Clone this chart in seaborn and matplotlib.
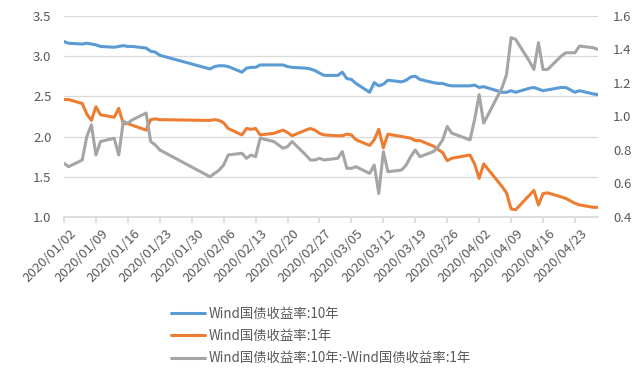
"""
国债收益率 10年 / 1年 及期限利差 (2020/01 - 2020/04)
"""

import pandas as pd
import numpy as np
import matplotlib
matplotlib.use('Agg')
import matplotlib.pyplot as plt
import matplotlib.dates as mdates
import matplotlib.transforms as mtransforms
import seaborn as sns

# =============================================================================
# 1. DONNÉES
# =============================================================================

dates = [
    '2020-01-02', '2020-01-03', '2020-01-06', '2020-01-07', '2020-01-08', '2020-01-09',
    '2020-01-10', '2020-01-13', '2020-01-14', '2020-01-15', '2020-01-16', '2020-01-17',
    '2020-01-20', '2020-01-21', '2020-01-22', '2020-01-23',
    '2020-02-03', '2020-02-04', '2020-02-05', '2020-02-06', '2020-02-07', '2020-02-10',
    '2020-02-11', '2020-02-12', '2020-02-13', '2020-02-14', '2020-02-17', '2020-02-18',
    '2020-02-19', '2020-02-20', '2020-02-21', '2020-02-24', '2020-02-25', '2020-02-26',
    '2020-02-27', '2020-02-28',
    '2020-03-02', '2020-03-03', '2020-03-04', '2020-03-05', '2020-03-06', '2020-03-09',
    '2020-03-10', '2020-03-11', '2020-03-12', '2020-03-13', '2020-03-16', '2020-03-17',
    '2020-03-18', '2020-03-19', '2020-03-20', '2020-03-23', '2020-03-24', '2020-03-25',
    '2020-03-26', '2020-03-27', '2020-03-30', '2020-03-31',
    '2020-04-01', '2020-04-02', '2020-04-03', '2020-04-07', '2020-04-08', '2020-04-09',
    '2020-04-10', '2020-04-13', '2020-04-14', '2020-04-15', '2020-04-16', '2020-04-17',
    '2020-04-20', '2020-04-21', '2020-04-22', '2020-04-23', '2020-04-24', '2020-04-27',
    '2020-04-28',
]

yield_10y = [
    3.18, 3.16, 3.15, 3.16, 3.15, 3.14, 3.12, 3.11, 3.12, 3.13, 3.12, 3.12, 3.10, 3.06, 3.05, 3.01,
    2.84, 2.87, 2.88, 2.88, 2.87, 2.80, 2.85, 2.86, 2.86, 2.89, 2.89, 2.89, 2.89, 2.87, 2.86, 2.85,
    2.84, 2.82, 2.79, 2.76,
    2.76, 2.80, 2.72, 2.71, 2.66, 2.55, 2.67, 2.63, 2.65, 2.70, 2.68, 2.70, 2.74, 2.75, 2.71, 2.67,
    2.66, 2.66, 2.64, 2.63, 2.63, 2.63,
    2.64, 2.61, 2.62, 2.55, 2.55, 2.57, 2.55, 2.60, 2.61, 2.59, 2.57, 2.58, 2.61, 2.61, 2.58, 2.55,
    2.57, 2.53, 2.52,
]

yield_1y = [
    2.46, 2.46, 2.41, 2.28, 2.20, 2.37, 2.27, 2.24, 2.35, 2.16, 2.16, 2.14, 2.08, 2.21, 2.22, 2.21,
    2.20, 2.21, 2.20, 2.17, 2.10, 2.02, 2.10, 2.09, 2.10, 2.02, 2.04, 2.06, 2.08, 2.05, 2.01, 2.08,
    2.10, 2.08, 2.04, 2.02,
    2.01, 2.01, 2.03, 2.02, 1.96, 1.89, 1.96, 2.09, 1.86, 2.03, 2.00, 1.99, 1.98, 1.95, 1.95, 1.88,
    1.84, 1.80, 1.70, 1.73, 1.76, 1.77,
    1.66, 1.48, 1.66, 1.38, 1.30, 1.10, 1.09, 1.27, 1.33, 1.15, 1.29, 1.30, 1.25, 1.23, 1.20, 1.17,
    1.15, 1.12, 1.12,
]

spread_10y_1y = [
    0.72, 0.70, 0.74, 0.88, 0.95, 0.77, 0.85, 0.87, 0.77, 0.97, 0.96, 0.98, 1.02, 0.85, 0.83, 0.80,
    0.64, 0.66, 0.68, 0.71, 0.77, 0.78, 0.75, 0.77, 0.76, 0.87, 0.85, 0.83, 0.81, 0.82, 0.85, 0.77,
    0.74, 0.74, 0.75, 0.74,
    0.75, 0.79, 0.69, 0.69, 0.70, 0.66, 0.71, 0.54, 0.79, 0.67, 0.68, 0.71, 0.76, 0.80, 0.76, 0.79,
    0.82, 0.86, 0.94, 0.90, 0.87, 0.86,
    0.98, 1.13, 0.96, 1.17, 1.25, 1.47, 1.46, 1.33, 1.28, 1.44, 1.28, 1.28, 1.36, 1.38, 1.38, 1.38,
    1.42, 1.41, 1.40,
]

labels = ['Wind国债收益率:10年', 'Wind国债收益率:1年', 'Wind国债收益率:10年:-Wind国债收益率:1年']
colors = ['#5B9BD5', '#ED7D31', '#A5A5A5']

left_ticks = [1.0, 1.5, 2.0, 2.5, 3.0, 3.5]
right_ticks = [0.4, 0.6, 0.8, 1.0, 1.2, 1.4, 1.6]

# =============================================================================
# 2. STYLE
# =============================================================================

sns.set_theme(style='white')
plt.rcParams['font.family'] = ['Noto Sans CJK SC', 'DejaVu Sans']
text_color = '#595959'
grid_color = '#D9D9D9'

df = pd.DataFrame({
    'date': pd.to_datetime(dates),
    'y10': yield_10y,
    'y1': yield_1y,
    'spread': spread_10y_1y,
})

# =============================================================================
# 3. GRAPHIQUE
# =============================================================================

fig = plt.figure(figsize=(6.4, 3.78), dpi=100)
ax = fig.add_axes([0.1, 0.426, 0.834, 0.532])
ax2 = ax.twinx()

sns.lineplot(data=df, x='date', y='y10', ax=ax, color=colors[0], lw=2.2, label=labels[0])
sns.lineplot(data=df, x='date', y='y1', ax=ax, color=colors[1], lw=2.2, label=labels[1])
sns.lineplot(data=df, x='date', y='spread', ax=ax2, color=colors[2], lw=2.2, label=labels[2])

handles = ax.get_legend_handles_labels()[0] + ax2.get_legend_handles_labels()[0]
ax.get_legend().remove()
ax2.get_legend().remove()

# Axes Y
ax.set_ylim(1.0, 3.5)
ax.set_yticks(left_ticks)
ax.set_yticklabels([f'{v:.1f}' for v in left_ticks])
ax2.set_ylim(0.4, 1.6)
ax2.set_yticks(right_ticks)
ax2.set_yticklabels([f'{v:.1f}' for v in right_ticks])
ax.yaxis.grid(True, color=grid_color, lw=0.9)
ax.set_axisbelow(True)

# Axe X (dates)
ticks = pd.date_range('2020-01-02', '2020-04-28', freq='7D')
ax.set_xlim(df['date'].iloc[0], df['date'].iloc[-1])
ax.set_xticks(ticks)
ax.xaxis.set_major_formatter(mdates.DateFormatter('%Y/%m/%d'))

for a in (ax, ax2):
    a.set_xlabel('')
    a.set_ylabel('')
    for s in a.spines.values():
        s.set_visible(False)
ax.spines['bottom'].set_visible(True)
ax.spines['bottom'].set_color(grid_color)

ax.tick_params(axis='y', length=0, pad=9, labelsize=9.5, labelcolor=text_color)
ax2.tick_params(axis='y', length=0, pad=11, labelsize=9.5, labelcolor=text_color)
ax.tick_params(axis='x', length=4, color=grid_color, pad=3, labelsize=9.5,
               labelcolor=text_color, bottom=True)
shift = mtransforms.ScaledTranslation(4 / 72, 0, fig.dpi_scale_trans)
for lab in ax.get_xticklabels():
    lab.set_rotation(45)
    lab.set_ha('right')
    lab.set_va('top')
    lab.set_rotation_mode('anchor')
    lab.set_transform(lab.get_transform() + shift)

fig.legend(handles, labels, loc='center', bbox_to_anchor=(0.502, 0.111), frameon=False,
           fontsize=9.6, handlelength=2.5, handletextpad=0.3, labelspacing=0.62,
           labelcolor=text_color)

fig.savefig('out.png', dpi=100)
